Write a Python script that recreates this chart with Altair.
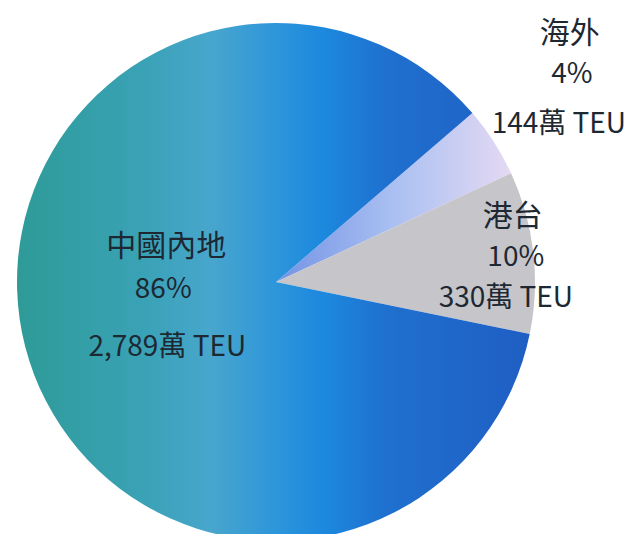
import math
import altair as alt
import pandas as pd

# ---- data ----
categories = ["海外", "港台", "中國內地"]
values = [144, 330, 2789]            # 萬 TEU
pct_labels = ["4%", "10%", "86%"]
value_labels = ["144萬 TEU", "330萬 TEU", "2,789萬 TEU"]

df = pd.DataFrame({
    "cat": categories,
    "value": values,
    "pct": pct_labels,
    "vlabel": value_labels,
    "order": list(range(len(categories))),
})
total = sum(values)

# ---- layout / style ----
START_DEG = 49.3
theta_scale = alt.Scale(domain=[0, total],
                        range=[math.radians(START_DEG), math.radians(START_DEG) + 2 * math.pi])
CX, CY, R = 268, 274, 259
FONT = "Noto Sans CJK TC"
TEXT_COLOR = "#1d2832"
FS_NAME = 30
FS = 28

fills = {
    "中國內地": alt.Gradient(
        gradient="linear", x1=0, x2=1, y1=0, y2=0,
        stops=[
            alt.GradientStop(color="#2e9b98", offset=0),
            alt.GradientStop(color="#3aa2b6", offset=0.25),
            alt.GradientStop(color="#48a6cd", offset=0.38),
            alt.GradientStop(color="#2e96da", offset=0.5),
            alt.GradientStop(color="#1c88de", offset=0.6),
            alt.GradientStop(color="#1f70cf", offset=0.72),
            alt.GradientStop(color="#1f5ec4", offset=1),
        ]),
    "海外": alt.Gradient(
        gradient="linear", x1=0, x2=1, y1=0, y2=0,
        stops=[
            alt.GradientStop(color="#7393e4", offset=0),
            alt.GradientStop(color="#aac0f2", offset=0.5),
            alt.GradientStop(color="#e4d9f3", offset=1),
        ]),
    "港台": "#c5c5ca",
}

# label placement: (radius px, angle shift deg, [(dx, dy) for name, pct, value])
label_pos = {
    "海外": (361, -2.2, [(-2, -41), (0, 0), (-13, 50)]),
    "港台": (241, 0.9, [(-3, -41), (0, 0), (-10, 41)]),
    "中國內地": (113, 10.6, [(3, -43), (0, 0), (4, 58)]),
}

base = alt.Chart(df).transform_window(
    cum="sum(value)", sort=[alt.SortField("order")], frame=[None, 0]
).transform_calculate(
    start="datum.cum - datum.value",
    end="datum.cum",
    mid="datum.cum - datum.value / 2",
)

layers = []
for c in categories:
    layers.append(
        base.transform_filter(alt.datum.cat == c)
        .mark_arc(radius=R, fill=fills[c], strokeWidth=0)
        .encode(
            theta=alt.Theta("start:Q", scale=theta_scale, stack=False),
            theta2="end:Q",
            x=alt.value(CX),
            y=alt.value(CY),
        )
    )

for c in categories:
    r, shift, offs = label_pos[c]
    shift_units = shift / 360 * total
    for field, (dx, dy), fs in zip(["cat", "pct", "vlabel"], offs, [FS_NAME, FS, FS]):
        layers.append(
            base.transform_filter(alt.datum.cat == c)
            .transform_calculate(lt=f"datum.mid + {shift_units}")
            .mark_text(radius=r, dx=dx, dy=dy, font=FONT, fontSize=fs, color=TEXT_COLOR,
                       align="center", baseline="middle")
            .encode(
                theta=alt.Theta("lt:Q", scale=theta_scale, stack=False),
                text=alt.Text(f"{field}:N"),
                x=alt.value(CX),
                y=alt.value(CY),
            )
        )

chart = alt.layer(*layers).properties(
    width=618, height=526,
    autosize=alt.AutoSizeParams(type="none"),
    padding=0,
    background="white",
).configure_view(strokeWidth=0)

chart.save("out.html", embed_options={"renderer": "svg", "actions": False})
